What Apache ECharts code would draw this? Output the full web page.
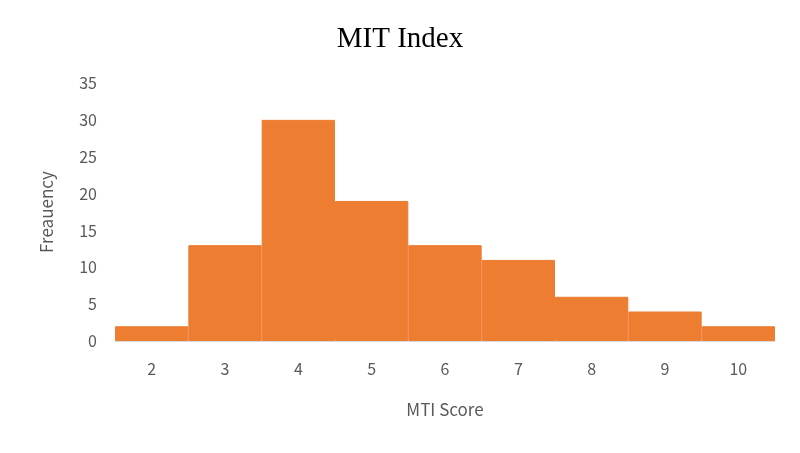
<!DOCTYPE html>
<html>
<head>
<meta charset="utf-8">
<script src="https://cdn.jsdelivr.net/npm/echarts@6/dist/echarts.min.js"></script>
<style>
  html, body { margin: 0; padding: 0; background: #fff; }
  #main { width: 800px; height: 453px; }
</style>
</head>
<body>
<div id="main"></div>
<script>
const scores = ["2", "3", "4", "5", "6", "7", "8", "9", "10"];
const frequency = [2, 13, 30, 19, 13, 11, 6, 4, 2];

const labelFont = "'Noto Sans CJK KR', 'Open Sans', sans-serif";

const myChart = echarts.init(document.getElementById("main"));
myChart.setOption({
  animation: false,
  title: {
    text: "MIT Index",
    left: "center",
    top: 20,
    textStyle: {
      fontFamily: "'Liberation Serif', serif",
      fontSize: 29,
      fontWeight: "normal",
      color: "#000",
    },
  },
  grid: {
    left: 115,
    right: 25,
    top: 83,
    bottom: 112,
  },
  xAxis: {
    type: "category",
    data: scores,
    name: "MTI Score",
    nameLocation: "middle",
    nameGap: 60,
    nameTextStyle: { fontFamily: labelFont, fontSize: 17, color: "#595959" },
    axisLine: { lineStyle: { color: "#d9d9d9" } },
    axisTick: { show: false },
    axisLabel: { fontFamily: labelFont, fontSize: 16, color: "#595959", margin: 20 },
  },
  yAxis: {
    type: "value",
    min: 0,
    max: 35,
    interval: 5,
    name: "Freauency",
    nameLocation: "middle",
    nameGap: 60,
    nameTextStyle: { fontFamily: labelFont, fontSize: 17, color: "#595959" },
    splitLine: { show: false },
    axisLine: { show: false },
    axisTick: { show: false },
    axisLabel: { fontFamily: labelFont, fontSize: 16, color: "#595959", margin: 18 },
  },
  series: [
    {
      type: "bar",
      data: frequency,
      barCategoryGap: "0%",
      itemStyle: { color: "#ED7D31", borderColor: "#ED7D31", borderWidth: 1 },
    },
  ],
});
</script>
</body>
</html>
